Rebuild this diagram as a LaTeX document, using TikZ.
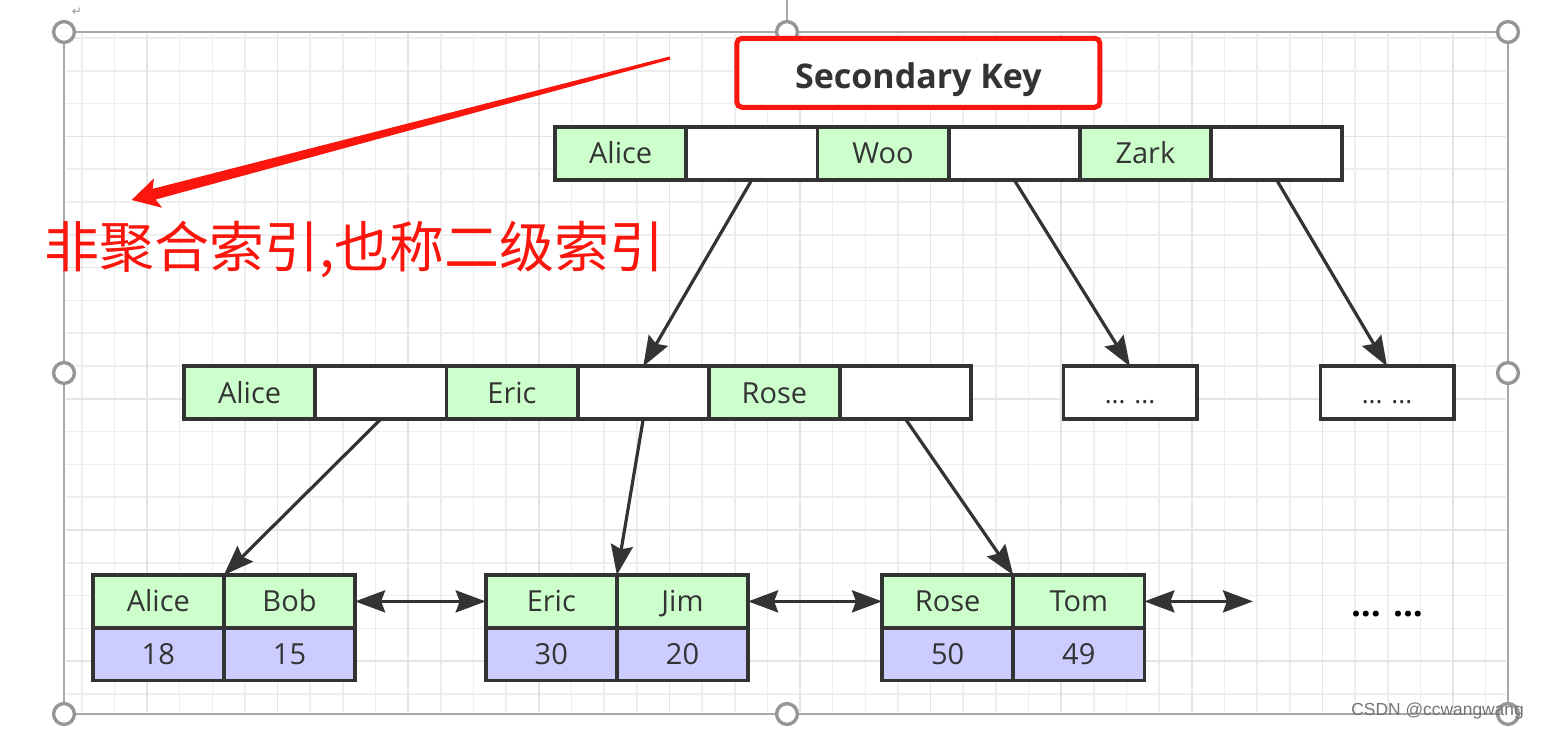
\documentclass[tikz,border=0pt]{standalone}
\usepackage{fontspec}
\setmainfont{Open Sans}
\newfontfamily\cjkfont{Noto Sans CJK SC}
\newfontfamily\markfont{DejaVu Sans}
\newfontfamily\wmfont{Liberation Sans}
\usepackage{tikz}
\usetikzlibrary{arrows.meta, positioning, calc}
\definecolor{cKey}{RGB}{204,255,204}
\definecolor{cVal}{RGB}{204,204,255}
\definecolor{cInk}{RGB}{51,51,51}
\definecolor{cRed}{RGB}{250,22,12}
\definecolor{cGrid}{RGB}{238,238,238}
\definecolor{cGridMaj}{RGB}{228,228,228}
\definecolor{cFrame}{RGB}{168,168,168}
\definecolor{cHandle}{RGB}{150,150,150}
\definecolor{cMark}{RGB}{115,115,115}
\tikzset{
	keycell/.style={rectangle, draw=cInk, line width=1.9pt, fill=cKey, minimum width=65.6pt, minimum height=26.4pt, inner sep=0pt, outer sep=0pt, text=cInk, font=\fontsize{14.5pt}{17pt}\selectfont, text height=10.4pt, text depth=0pt},
	ptrcell/.style={keycell, fill=white},
	valcell/.style={keycell, fill=cVal},
	dotbox/.style={ptrcell, minimum width=66.6pt, font=\fontsize{13pt}{15pt}\selectfont},
	titlebox/.style={rectangle, rounded corners=2.5pt, draw=cRed, line width=2.5pt, fill=white, minimum width=181.5pt, minimum height=34.5pt, inner sep=0pt, text=cInk, font=\fontsize{17pt}{20pt}\selectfont\bfseries, text height=16pt, text depth=0pt},
	notetext/.style={font=\cjkfont\fontsize{27.5pt}{30pt}\selectfont, text=cRed, anchor=base west, inner sep=0pt},
	link/.style={draw=cInk, line width=1.6pt, ->},
	twoway/.style={draw=cInk, line width=1.6pt, <->},
	handle/.style={draw=cHandle, line width=1.7pt, fill=white},
}

\begin{document}
\begin{tikzpicture}[x=0.5pt, y=-0.5pt, >={Stealth[length=15pt, width=11pt, inset=2pt]}]
	\useasboundingbox (0,0) rectangle (1548,731);
	% grid
	\foreach \k in {0,...,43}
		\draw[cGrid, line width=0.8pt] ({81.7+32.65*\k},34) -- ({81.7+32.65*\k},712);
	\foreach \k in {0,...,20}
		\draw[cGrid, line width=0.8pt] (66,{38+32.8*\k}) -- (1506,{38+32.8*\k});
	\foreach \k in {2,6,...,42}
		\draw[cGridMaj, line width=0.8pt] ({81.7+32.65*\k},34) -- ({81.7+32.65*\k},712);
	\foreach \k in {3,7,...,19}
		\draw[cGridMaj, line width=0.8pt] (66,{38+32.8*\k}) -- (1506,{38+32.8*\k});
	% frame and handles
	\draw[cFrame, line width=1pt] (64,32) rectangle (1508,714);
	\draw[cFrame, line width=1pt] (787,0) -- (787,22);
	\foreach \hx/\hy in {64/32, 787/32, 1508/32, 64/373, 1508/373, 64/714, 787/714, 1508/714}
		\draw[handle] (\hx,\hy) circle[radius=5.2pt];
	\node[text=cHandle, font=\markfont\fontsize{6pt}{7pt}\selectfont, inner sep=0pt] (ret) at (77,12) {↵};

	\node[titlebox] (title) at (918.4,72.8) {Secondary Key};

	% root
	\node[keycell, anchor=west] (t1) at (555,153.5) {Alice};
	\node[ptrcell, right=0pt of t1] (t2) {};
	\node[keycell, right=0pt of t2] (t3) {Woo};
	\node[ptrcell, right=0pt of t3] (t4) {};
	\node[keycell, right=0pt of t4] (t5) {Zark};
	\node[ptrcell, right=0pt of t5] (t6) {};

	% inner level
	\node[keycell, anchor=west] (m1) at (184,392.8) {Alice};
	\node[ptrcell, right=0pt of m1] (m2) {};
	\node[keycell, right=0pt of m2] (m3) {Eric};
	\node[ptrcell, right=0pt of m3] (m4) {};
	\node[keycell, right=0pt of m4] (m5) {Rose};
	\node[ptrcell, right=0pt of m5] (m6) {};
	\node[dotbox] (d1) at (1130,392.7) {... ...};
	\node[dotbox] (d2) at (1387,392.7) {... ...};

	% leaves
	\node[keycell, anchor=north west] (a1) at (92.7,575) {Alice};
	\node[keycell, right=0pt of a1] (a2) {Bob};
	\node[valcell, below=0pt of a1] (a1v) {18};
	\node[valcell, below=0pt of a2] (a2v) {15};

	\node[keycell, anchor=north west] (b1) at (485.7,575) {Eric};
	\node[keycell, right=0pt of b1] (b2) {Jim};
	\node[valcell, below=0pt of b1] (b1v) {30};
	\node[valcell, below=0pt of b2] (b2v) {20};

	\node[keycell, anchor=north west] (c1) at (882,575) {Rose};
	\node[keycell, right=0pt of c1] (c2) {Tom};
	\node[valcell, below=0pt of c1] (c1v) {50};
	\node[valcell, below=0pt of c2] (c2v) {49};

	\coordinate (more) at (1253,601.4);
	\node[font=\bfseries\fontsize{17.5pt}{20pt}\selectfont, text=black, anchor=base, inner sep=0pt] (etc) at (1387,616.5) {... ...};

	% pointers
	\draw[link] (t2.south) -- (m4.north);
	\draw[link] (t4.south) -- (d1.north);
	\draw[link] (t6.south) -- (d2.north);
	\draw[link] (m2.south) -- (a1.north east);
	\draw[link] (m4.south) -- (b1.north east);
	\draw[link] (m6.south) -- (c1.north east);
	\draw[twoway] (a2.east) -- (b1.west);
	\draw[twoway] (b2.east) -- (c1.west);
	\draw[twoway] (c2.east) -- (more);

	% red note
	\coordinate (rtip) at (131.7,200);
	\coordinate (rtail) at (670,58);
	\fill[cRed] (rtip) -- (162.2,207.8) -- (155.6,199.5) -- (670.4,59.5) -- (rtail) -- (669.6,56.5) -- (152.8,188.8) -- (153.9,178.4) -- cycle;
	\node[notetext] (note) at (44,268) {非聚合索引,也称二级索引};

	\node[font=\wmfont\fontsize{8.7pt}{10pt}\selectfont, text=cMark, anchor=base west, inner sep=0pt] (wm) at (1351,716) {CSDN @ccwangwang};
\end{tikzpicture}
\end{document}
